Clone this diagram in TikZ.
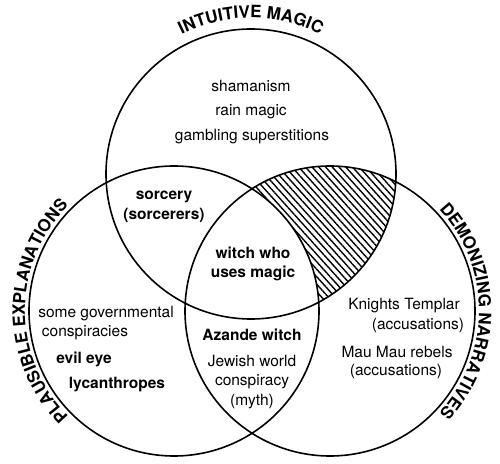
\documentclass[tikz,border=0pt]{standalone}
\usepackage{fontspec}
\setmainfont{TeX Gyre Heros}
\usetikzlibrary{decorations.text,patterns.meta}

\begin{document}
\begin{tikzpicture}[
  x=1pt, y=1pt,
  set/.style={draw, line width=1.6pt},
  lbl/.style={align=center, inner sep=0pt, font=\fontsize{15.5}{19.5}\selectfont},
  blbl/.style={lbl, font=\fontsize{15.5}{19.5}\selectfont\bfseries},
  title/.style={decorate, decoration={text along path, text align=center,
      text={|\fontsize{17}{20}\selectfont\bfseries|#1}}},
  hatch/.style={pattern={Lines[angle=-48, distance=5pt, line width=1.4pt]}},
]
\useasboundingbox (0,0) rectangle (500,463);

\coordinate (T) at (251,289);
\coordinate (L) at (174,152);
\coordinate (R) at (330,152);

% intuitive magic and demonizing, but not plausible
\begin{scope}
  \clip (T) circle (145);
  \clip (R) circle (145);
  \fill[hatch] (R) circle (145);
  \fill[white] (L) circle (145);
\end{scope}

\draw[set] (T) circle (145);
\draw[set] (L) circle (145);
\draw[set] (R) circle (145);

\path[title={INTUITIVE MAGIC}] (T) ++(150:156) arc (150:30:156);
\path[title={PLAUSIBLE EXPLANATIONS}] (L) ++(225:149) arc (225:135:149);
\path[title={DEMONIZING NARRATIVES}] (R) ++(45:149) arc (45:-45:149);

\node[lbl] (sham) at (251,377) {shamanism};
\node[lbl] (rain) at (251,351) {rain magic};
\node[lbl] (gamb) at (252,326) {gambling superstitions};

\node[blbl] (sorc) at (164,256) {sorcery\\(sorcerers)};
\node[blbl] (witch) at (253,199) {witch who\\uses magic};

\node[lbl] (gov1) at (106,149) {some governmental};
\node[lbl] (gov2) at (85,130) {conspiracies};
\node[blbl] (evil) at (84,104) {evil eye};
\node[blbl] (lyc) at (117,78) {lycanthropes};

\node[blbl] (azande) at (252,128) {Azande witch};
\node[lbl] (jew) at (252,81) {Jewish world\\conspiracy\\(myth)};

\node[lbl] (kt1) at (404,157) {Knights Templar};
\node[lbl] (kt2) at (418,138) {(accusations)};
\node[lbl] (mm1) at (397,111) {Mau Mau rebels};
\node[lbl] (mm2) at (396,92) {(accusations)};
\end{tikzpicture}
\end{document}
